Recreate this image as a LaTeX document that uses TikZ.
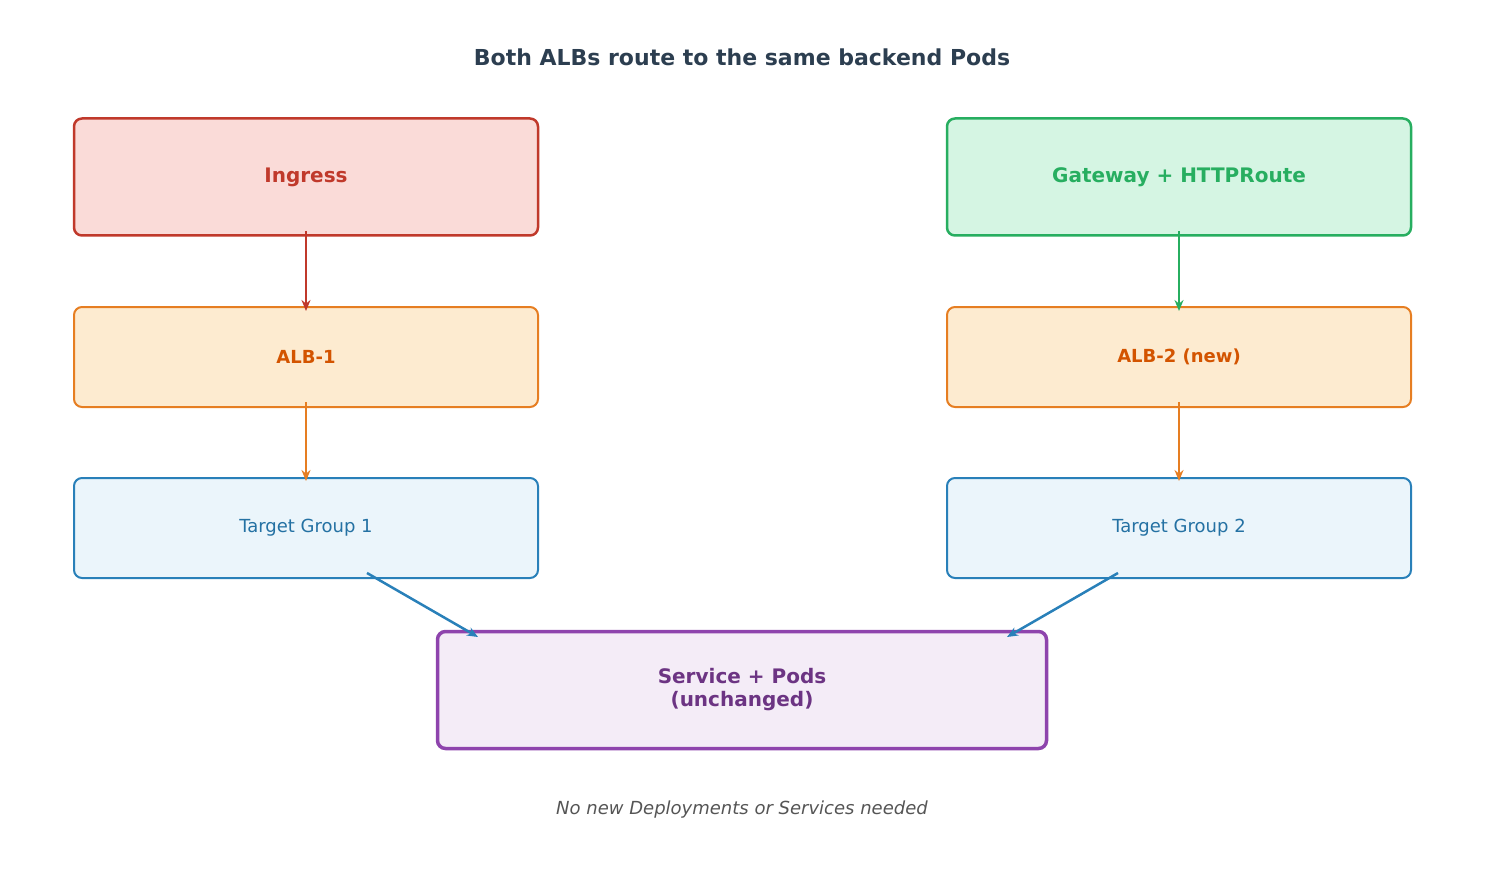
\documentclass[tikz,border=0pt]{standalone}
\usepackage{fontspec}
\setmainfont{DejaVu Sans}
\usetikzlibrary{arrows.meta}
\definecolor{cred}{HTML}{C0392B}\definecolor{fred}{HTML}{FADBD8}
\definecolor{cgreen}{HTML}{27AE60}\definecolor{fgreen}{HTML}{D5F5E3}
\definecolor{corange}{HTML}{E67E22}\definecolor{forange}{HTML}{FDEBD0}\definecolor{torange}{HTML}{D35400}
\definecolor{cblue}{HTML}{2980B9}\definecolor{fblue}{HTML}{EBF5FB}\definecolor{tblue}{HTML}{2471A3}
\definecolor{cpurple}{HTML}{8E44AD}\definecolor{fpurple}{HTML}{F4ECF7}\definecolor{tpurple}{HTML}{6C3483}
\definecolor{ctitle}{HTML}{2C3E50}\definecolor{cfoot}{HTML}{555555}
\begin{document}
\begin{tikzpicture}[x=1pt,y=-1pt,
  box/.style={rounded corners=8pt,minimum width=464pt,inner sep=0pt,align=center},
  arr/.style={-{Stealth[length=11pt,width=9pt]},line width=2.5pt}]
\useasboundingbox (0,0) rectangle (1485,885);
\node[text=ctitle,font=\fontsize{22}{26}\selectfont\bfseries] (title) at (742,57) {Both ALBs route to the same backend Pods};
\node[box,draw=cred,fill=fred,line width=2.5pt,minimum height=117pt,text=cred,font=\fontsize{20}{24}\selectfont\bfseries] (ing) at (306,177) {Ingress};
\node[box,draw=cgreen,fill=fgreen,line width=2.5pt,minimum height=117pt,text=cgreen,font=\fontsize{20}{24}\selectfont\bfseries] (gw) at (1179,177) {Gateway + HTTPRoute};
\node[box,draw=corange,fill=forange,line width=2pt,minimum height=100pt,text=torange,font=\fontsize{18}{22}\selectfont\bfseries] (alb1) at (306,357) {ALB-1};
\node[box,draw=corange,fill=forange,line width=2pt,minimum height=100pt,text=torange,font=\fontsize{18}{22}\selectfont\bfseries] (alb2) at (1179,357) {ALB-2 (new)};
\node[box,draw=cblue,fill=fblue,line width=2pt,minimum height=100pt,text=tblue,font=\fontsize{18}{22}\selectfont] (tg1) at (306,528) {Target Group 1};
\node[box,draw=cblue,fill=fblue,line width=2pt,minimum height=100pt,text=tblue,font=\fontsize{18}{22}\selectfont] (tg2) at (1179,528) {Target Group 2};
\node[box,draw=cpurple,fill=fpurple,line width=3.5pt,minimum width=609pt,minimum height=117pt,text=tpurple,font=\fontsize{20}{23}\selectfont\bfseries] (svc) at (742,690) {Service + Pods\\(unchanged)};
\node[text=cfoot,font=\fontsize{18}{22}\selectfont\itshape] (foot) at (742,810) {No new Deployments or Services needed};
\coordinate (a1) at (306,231); \coordinate (a2) at (306,311);
\coordinate (b1) at (1179,231); \coordinate (b2) at (1179,311);
\coordinate (c1) at (306,402); \coordinate (c2) at (306,481);
\coordinate (d1) at (1179,402); \coordinate (d2) at (1179,481);
\coordinate (e1) at (367,573); \coordinate (e2) at (478,637);
\coordinate (f1) at (1118,573); \coordinate (f2) at (1007,637);
\draw[arr,cred] (a1) -- (a2);
\draw[arr,cgreen] (b1) -- (b2);
\draw[arr,corange] (c1) -- (c2);
\draw[arr,corange] (d1) -- (d2);
\draw[arr,cblue] (e1) -- (e2);
\draw[arr,cblue] (f1) -- (f2);
\end{tikzpicture}
\end{document}
